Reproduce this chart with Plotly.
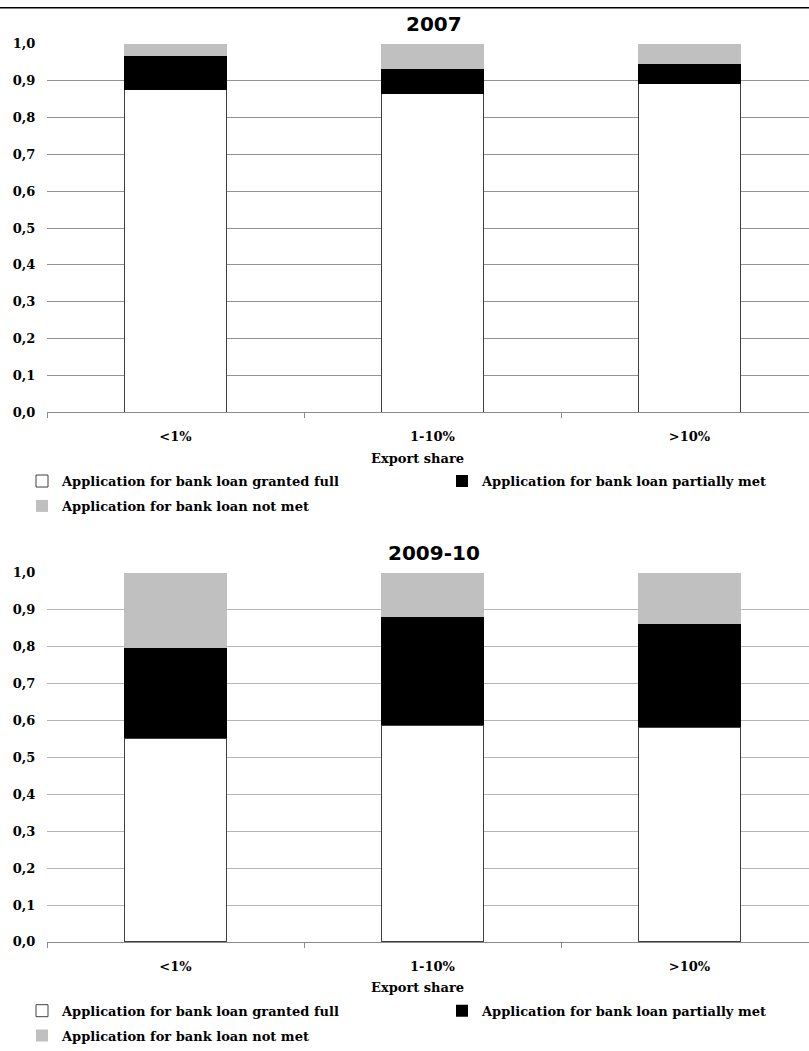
import plotly.graph_objects as go

# ---- data ----
categories = ["<1%", "1-10%", ">10%"]
series_names = [
    "Application for bank loan granted full",
    "Application for bank loan partially met",
    "Application for bank loan not met",
]
granted_2007 = [0.876, 0.865, 0.891]
partial_2007 = [0.092, 0.067, 0.055]
notmet_2007 = [0.032, 0.068, 0.054]

granted_2009 = [0.552, 0.587, 0.582]
partial_2009 = [0.245, 0.294, 0.278]
notmet_2009 = [0.203, 0.119, 0.140]

panel_titles = ["2007", "2009-10"]
x_title = "Export share"
y_tick_values = [0.0, 0.1, 0.2, 0.3, 0.4, 0.5, 0.6, 0.7, 0.8, 0.9, 1.0]

# ---- layout helpers ----
W, H = 809, 1051
# the captured page is offset/squeezed slightly in y; compensate
Y_OFF, Y_SCALE = 7.35, 0.9853


def py(px):
    return 1 - ((px - Y_OFF) / Y_SCALE) / H


def pxx(px):
    return px / W


serif = dict(family="DejaVu Serif", size=13, color="black", weight="bold")
sans_title = dict(family="DejaVu Sans", size=20, color="black", weight="bold")

fill_colors = ["#ffffff", "#000000", "#c0c0c0"]
line_colors = ["#404040", "#000000", "#c0c0c0"]
line_widths = [1, 0, 0]

panels = [
    dict(data=[granted_2007, partial_2007, notmet_2007], x="x", y="y",
         legends=["legend", "legend2", "legend"], grid="#939393",
         top=44.3, bottom=414.0, legend_top=468),
    dict(data=[granted_2009, partial_2009, notmet_2009], x="x2", y="y2",
         legends=["legend3", "legend4", "legend3"], grid="#b5b5b5",
         top=575.0, bottom=945.5, legend_top=999.5),
]

fig = go.Figure()
for p_i, p in enumerate(panels):
    for s_i in range(3):
        fig.add_trace(go.Bar(
            x=categories,
            y=p["data"][s_i],
            name=series_names[s_i],
            xaxis=p["x"], yaxis=p["y"],
            width=0.40,
            marker=dict(color=fill_colors[s_i],
                        line=dict(color=line_colors[s_i], width=line_widths[s_i])),
            legend=p["legends"][s_i],
            legendgroup=f"g{p_i}{s_i}",
            hoverinfo="x+y+name",
        ))

x_range = [-0.5, 2.465]
common_x = dict(
    type="category", range=x_range, domain=[pxx(47), 1],
    showgrid=False, showline=True, linecolor="#8c8c8c", linewidth=1,
    ticks="outside", tickson="boundaries", ticklen=5, tickcolor="#8c8c8c",
    tickfont=serif, ticklabelstandoff=12, zeroline=False, fixedrange=True,
)
common_y = dict(
    range=[0, 1.0], tickvals=y_tick_values, tickformat=".1f",
    showgrid=True, gridwidth=1, zeroline=False, showline=False,
    ticks="outside", ticklen=8, tickcolor="rgba(0,0,0,0)",
    tickfont=serif, fixedrange=True,
)

layout = dict(
    width=W, height=H, margin=dict(l=0, r=0, t=0, b=0),
    paper_bgcolor="white", plot_bgcolor="white",
    barmode="stack", separators=", ", bargap=0.6,
    annotations=[], shapes=[],
)

for i, p in enumerate(panels):
    xs = "" if i == 0 else "2"
    ax = dict(common_x)
    ax["anchor"] = "y" + xs
    ay = dict(common_y)
    ay["domain"] = [py(p["bottom"]), py(p["top"])]
    ay["gridcolor"] = p["grid"]
    ay["anchor"] = "x" + xs
    layout["xaxis" + xs] = ax
    layout["yaxis" + xs] = ay
    # panel title
    layout["annotations"].append(dict(
        text=panel_titles[i], xref="paper", yref="paper",
        x=pxx(434), y=py(p["top"] - 20), xanchor="center", yanchor="middle",
        showarrow=False, font=sans_title))
    # x axis title
    layout["annotations"].append(dict(
        text=x_title, xref="paper", yref="paper",
        x=pxx(417), y=py(p["bottom"] + 46), xanchor="center", yanchor="middle",
        showarrow=False, font=serif))

# legends
leg_common = dict(orientation="v", font=serif, bgcolor="rgba(0,0,0,0)",
                  traceorder="grouped", tracegroupgap=5, itemwidth=30,
                  xanchor="left", yanchor="top", itemclick=False, itemdoubleclick=False)
layout["legend"] = dict(leg_common, x=pxx(22), y=py(panels[0]["legend_top"]))
layout["legend2"] = dict(leg_common, x=pxx(442), y=py(panels[0]["legend_top"]))
layout["legend3"] = dict(leg_common, x=pxx(22), y=py(panels[1]["legend_top"]))
layout["legend4"] = dict(leg_common, x=pxx(442), y=py(panels[1]["legend_top"]))

# thin frame line across the top edge
layout["shapes"].append(dict(type="line", xref="paper", yref="paper",
                             x0=0, x1=1, y0=0.9993, y1=0.9993,
                             line=dict(color="black", width=1.5)))

fig.update_layout(**layout)
fig.write_html(
    "out.html",
    config={"displayModeBar": False},
    post_script=(
        "document.documentElement.style.margin='0px';"
        "document.body.style.margin='0px';document.body.style.padding='0px';"
        "var d=document.getElementById('{plot_id}');"
        "d.style.position='absolute';d.style.left='0px';d.style.top='0px';"
    ),
)
